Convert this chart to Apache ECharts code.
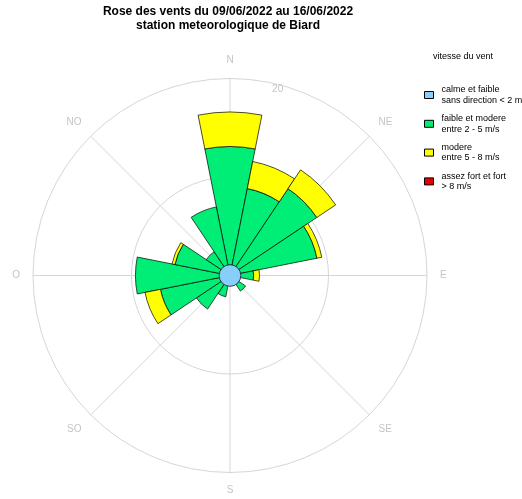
<!DOCTYPE html>
<html><head><meta charset="utf-8">
<script src="https://cdn.jsdelivr.net/npm/echarts@6/dist/echarts.min.js"></script>
<style>html,body{margin:0;padding:0;background:#fff}#c{width:522px;height:499px}</style>
</head><body><div id="c"></div>
<script>
// 16 wind directions (French compass), clockwise from North
const directions = ['N','NNE','NE','ENE','E','ESE','SE','SSE','S','SSO','SO','OSO','O','ONO','NO','NNO'];
const compassLabels = ['N','NE','E','SE','S','SO','O','NO'];
// frequencies (%) per speed class
const calme = [1.1];
const faibleModere = [13.1, 9.0, 10.6, 9.0, 2.4, 0, 1.9, 0, 0, 2.2, 4.1, 7.2, 9.6, 5.7, 2.9, 7.1];
const modere =       [3.5, 2.8, 2.3, 0.5, 0.6, 0, 0, 0, 0, 0, 0, 1.6, 0, 0.3, 0, 0];
const assezFort =    [0, 0, 0, 0, 0, 0, 0, 0, 0, 0, 0, 0, 0, 0, 0, 0];
const radiusMax = 20;
const radiusInterval = 10;
const seriesNames = ['calme', 'faible', 'modere', 'fort'];
const legendLabels = [
  'calme et faible\nsans direction < 2 m/s',
  'faible et modere\nentre 2 - 5 m/s',
  'modere\nentre 5 - 8 m/s',
  'assez fort et fort\n> 8 m/s'
];
const colors = ['#87CEFA', '#00EE76', '#FFFF00', '#E60000'];

const nz = arr => arr.map(v => (v > 0 ? v : null));
const CENTER = [230, 275.5];
const R = 197;
const gridColor = '#d6d6d6';
const labelColor = '#c4c4c4';
const FONT = 'Liberation Sans, Arial, sans-serif';

const chart = echarts.init(document.getElementById('c'), null, {renderer: 'canvas'});
const barStyle = (i) => ({color: colors[i], borderColor: '#000', borderWidth: 0.7});

chart.setOption({
  animation: false,
  backgroundColor: '#fff',
  textStyle: {fontFamily: FONT},
  title: [
    {text: 'Rose des vents du 09/06/2022 au 16/06/2022\nstation meteorologique de Biard',
     left: 228, top: 5, padding: 0, textAlign: 'center',
     textStyle: {fontSize: 12, fontWeight: 'bold', color: '#000', lineHeight: 14, fontFamily: FONT}},
    {text: 'vitesse du vent', left: 433, top: 52, padding: 0,
     textStyle: {fontSize: 9, fontWeight: 'normal', color: '#000', fontFamily: FONT}}
  ],
  legend: {
    orient: 'vertical', left: 424, top: 84.5, padding: 0,
    data: seriesNames, icon: 'rect', itemWidth: 9, itemHeight: 7, itemGap: 7.8,
    itemStyle: {borderColor: '#000', borderWidth: 1},
    formatter: name => legendLabels[seriesNames.indexOf(name)],
    textStyle: {fontSize: 9, lineHeight: 10.5, color: '#000', padding: [0, 0, 0, 3], fontFamily: FONT},
    selectedMode: false
  },
  polar: [
    {center: CENTER, radius: R},
    {center: CENTER, radius: R},
    {center: CENTER, radius: R},
    {center: CENTER, radius: R}
  ],
  angleAxis: [
    {polarIndex: 0, type: 'category', data: directions, startAngle: 90 + 360 / 32, clockwise: true,
     boundaryGap: true, axisLine: {show: false}, axisTick: {show: false}, axisLabel: {show: false},
     splitLine: {show: false}},
    {polarIndex: 1, type: 'value', min: 0, max: 360, interval: 45, startAngle: 90, clockwise: true,
     axisLine: {show: false}, axisTick: {show: false},
     axisLabel: {margin: 13, color: labelColor, fontSize: 10, fontFamily: FONT,
                 formatter: v => (v >= 360 ? '' : compassLabels[Math.round(v / 45)])},
     splitLine: {show: true, lineStyle: {color: gridColor, width: 1}}},
    {polarIndex: 2, type: 'category', data: ['calme'], show: false},
    {polarIndex: 3, type: 'value', min: 0, max: 360, startAngle: 76, show: false}
  ],
  radiusAxis: [
    {polarIndex: 0, type: 'value', min: 0, max: radiusMax, show: false},
    {polarIndex: 1, type: 'value', min: 0, max: radiusMax, interval: radiusInterval,
     axisLine: {show: false}, axisTick: {show: false}, axisLabel: {show: false},
     splitLine: {show: true, lineStyle: {color: gridColor, width: 1}}},
    {polarIndex: 2, type: 'value', min: 0, max: radiusMax, show: false},
    {polarIndex: 3, type: 'value', min: 0, max: radiusMax, interval: radiusInterval,
     axisLine: {show: false}, axisTick: {show: false}, splitLine: {show: false},
     axisLabel: {margin: 0, color: labelColor, fontSize: 10, align: 'center', verticalAlign: 'top',
                 fontFamily: FONT, formatter: v => (v === radiusMax ? String(v) : '')}}
  ],
  series: [
    {type: 'bar', name: seriesNames[1], coordinateSystem: 'polar', polarIndex: 0, stack: 'vent',
     data: nz(faibleModere), barCategoryGap: '0%', itemStyle: barStyle(1), z: 3},
    {type: 'bar', name: seriesNames[2], coordinateSystem: 'polar', polarIndex: 0, stack: 'vent',
     data: nz(modere), barCategoryGap: '0%', itemStyle: barStyle(2), z: 3},
    {type: 'bar', name: seriesNames[3], coordinateSystem: 'polar', polarIndex: 0, stack: 'vent',
     data: nz(assezFort), barCategoryGap: '0%', itemStyle: barStyle(3), z: 3},
    {type: 'bar', name: seriesNames[0], coordinateSystem: 'polar', polarIndex: 2,
     data: calme, barCategoryGap: '0%', itemStyle: barStyle(0), z: 5}
  ]
});
</script></body></html>
